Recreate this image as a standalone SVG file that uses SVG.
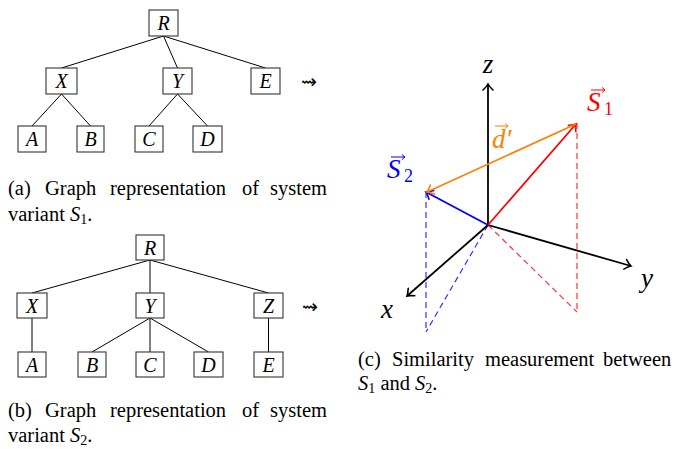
<svg xmlns="http://www.w3.org/2000/svg" width="680" height="449" viewBox="0 0 680 449">
<style>
.box{fill:#fff;stroke:#333;stroke-width:1.1}
.nl{font-style:italic;font-size:20px;text-anchor:middle;fill:#000}
.edge{stroke:#000;stroke-width:1;fill:none}
.cap{font-size:20.5px;fill:#000}
.it{font-style:italic}
.sub{font-size:14px}
.ax{stroke:#000;stroke-width:1.8;fill:none}
.m{font-style:italic;font-size:27px}
.msub{font-size:18px}
.sq{font-size:19px;fill:#000}
</style>
<defs>
<marker id="ak" viewBox="-8 -6 10 12" refX="0" refY="0" markerWidth="10" markerHeight="12" markerUnits="userSpaceOnUse" orient="auto"><path d="M-6,-5 Q-2,-1 0,0 Q-2,1 -6,5" fill="none" stroke="#000" stroke-width="1.6" stroke-linecap="round"/></marker>
<marker id="ar" viewBox="-8 -6 10 12" refX="0" refY="0" markerWidth="10" markerHeight="12" markerUnits="userSpaceOnUse" orient="auto"><path d="M-6,-5 Q-2,-1 0,0 Q-2,1 -6,5" fill="none" stroke="#f00" stroke-width="1.6" stroke-linecap="round"/></marker>
<marker id="ab" viewBox="-8 -6 10 12" refX="0" refY="0" markerWidth="10" markerHeight="12" markerUnits="userSpaceOnUse" orient="auto"><path d="M-6,-5 Q-2,-1 0,0 Q-2,1 -6,5" fill="none" stroke="#00f" stroke-width="1.6" stroke-linecap="round"/></marker>
<marker id="ao" viewBox="-8 -6 10 12" refX="0" refY="0" markerWidth="10" markerHeight="12" markerUnits="userSpaceOnUse" orient="auto"><path d="M-6,-5 Q-2,-1 0,0 Q-2,1 -6,5" fill="none" stroke="#ff8000" stroke-width="1.6" stroke-linecap="round"/></marker>
</defs>

<g font-family="Liberation Serif, DejaVu Serif, serif">
<!-- Tree (a) connectors -->
<g id="connectors-a">
<line class="edge" x1="163.5" y1="36" x2="61.5" y2="68"/>
<line class="edge" x1="163.5" y1="36" x2="177.5" y2="68"/>
<line class="edge" x1="163.5" y1="36" x2="265.5" y2="68"/>
<line class="edge" x1="61.5" y1="94" x2="32" y2="126"/>
<line class="edge" x1="61.5" y1="94" x2="90.5" y2="126"/>
<line class="edge" x1="177.5" y1="94" x2="149" y2="126"/>
<line class="edge" x1="177.5" y1="94" x2="207.5" y2="126"/>
</g>
<g id="a-R"><rect class="box" x="149" y="10" width="29" height="26"/><text class="nl" x="163.5" y="30">R</text></g>
<g id="a-X"><rect class="box" x="46" y="68" width="31" height="26"/><text class="nl" x="61.5" y="88">X</text></g>
<g id="a-Y"><rect class="box" x="163" y="68" width="29" height="26"/><text class="nl" x="177.5" y="88">Y</text></g>
<g id="a-E"><rect class="box" x="251" y="68" width="29" height="26"/><text class="nl" x="265.5" y="88">E</text></g>
<g id="a-A"><rect class="box" x="18" y="126" width="28" height="26"/><text class="nl" x="32" y="146">A</text></g>
<g id="a-B"><rect class="box" x="77" y="126" width="27" height="26"/><text class="nl" x="90.5" y="146">B</text></g>
<g id="a-C"><rect class="box" x="135" y="126" width="28" height="26"/><text class="nl" x="149" y="146">C</text></g>
<g id="a-D"><rect class="box" x="193" y="126" width="29" height="26"/><text class="nl" x="207.5" y="146">D</text></g>
<text class="sq" x="301" y="88" font-family="DejaVu Sans, sans-serif">⇝</text>

<!-- Caption (a) -->
<g id="caption-a">
<text class="cap" y="195"><tspan x="8">(a)</tspan><tspan x="45">Graph</tspan><tspan x="110">representation</tspan><tspan x="242">of</tspan><tspan x="270">system</tspan></text>
<text class="cap" x="8" y="221">variant <tspan class="it">S</tspan><tspan dy="3" class="sub">1</tspan><tspan dy="-3">.</tspan></text>
</g>

<!-- Tree (b) connectors -->
<g id="connectors-b">
<line class="edge" x1="150" y1="260" x2="32" y2="293"/>
<line class="edge" x1="150" y1="260" x2="150" y2="293"/>
<line class="edge" x1="150" y1="260" x2="268.5" y2="293"/>
<line class="edge" x1="32" y1="318" x2="32" y2="352"/>
<line class="edge" x1="150" y1="318" x2="92" y2="352"/>
<line class="edge" x1="150" y1="318" x2="150" y2="352"/>
<line class="edge" x1="150" y1="318" x2="208.5" y2="352"/>
<line class="edge" x1="268.5" y1="318" x2="268.5" y2="352"/>
</g>
<g id="b-R"><rect class="box" x="136" y="235" width="28" height="25"/><text class="nl" x="150" y="254.5">R</text></g>
<g id="b-X"><rect class="box" x="17" y="293" width="30" height="25"/><text class="nl" x="32" y="312.5">X</text></g>
<g id="b-Y"><rect class="box" x="136" y="293" width="28" height="25"/><text class="nl" x="150" y="312.5">Y</text></g>
<g id="b-Z"><rect class="box" x="254" y="293" width="29" height="25"/><text class="nl" x="268.5" y="312.5">Z</text></g>
<g id="b-A"><rect class="box" x="18" y="352" width="28" height="25"/><text class="nl" x="32" y="371.5">A</text></g>
<g id="b-B"><rect class="box" x="78" y="352" width="28" height="25"/><text class="nl" x="92" y="371.5">B</text></g>
<g id="b-C"><rect class="box" x="136" y="352" width="28" height="25"/><text class="nl" x="150" y="371.5">C</text></g>
<g id="b-D"><rect class="box" x="194" y="352" width="29" height="25"/><text class="nl" x="208.5" y="371.5">D</text></g>
<g id="b-E"><rect class="box" x="254" y="352" width="29" height="25"/><text class="nl" x="268.5" y="371.5">E</text></g>
<text class="sq" x="302" y="313" font-family="DejaVu Sans, sans-serif">⇝</text>

<!-- Caption (b) -->
<g id="caption-b">
<text class="cap" y="417"><tspan x="8">(b)</tspan><tspan x="45">Graph</tspan><tspan x="110">representation</tspan><tspan x="242">of</tspan><tspan x="270">system</tspan></text>
<text class="cap" x="8" y="442">variant <tspan class="it">S</tspan><tspan dy="3" class="sub">2</tspan><tspan dy="-3">.</tspan></text>
</g>

<!-- 3D plot (c) -->
<g id="plot-c">
<g id="dashed">
<line x1="577" y1="123" x2="577" y2="312" stroke="#f33" stroke-width="1.2" stroke-dasharray="6,4"/>
<line x1="488" y1="225" x2="577" y2="312" stroke="#f33" stroke-width="1.2" stroke-dasharray="6,4"/>
<line x1="426" y1="192" x2="426" y2="332" stroke="#33f" stroke-width="1.2" stroke-dasharray="6,4"/>
<line x1="488" y1="225" x2="426" y2="332" stroke="#33f" stroke-width="1.2" stroke-dasharray="6,4"/>
</g>
<g id="axes">
<line class="ax" x1="488" y1="225" x2="488" y2="84" marker-end="url(#ak)"/>
<line class="ax" x1="488" y1="225" x2="407" y2="296" marker-end="url(#ak)"/>
<line class="ax" x1="488" y1="225" x2="631" y2="266" marker-end="url(#ak)"/>
</g>
<g id="vectors">
<line x1="488" y1="225" x2="426" y2="192" stroke="#00f" stroke-width="1.8" marker-end="url(#ab)"/>
<line x1="488" y1="225" x2="576" y2="124" stroke="#f00" stroke-width="1.8" marker-end="url(#ar)"/>
<line x1="576" y1="124" x2="427" y2="192" stroke="#ff8000" stroke-width="1.8" marker-end="url(#ao)"/>
</g>
<g id="labels">
<text class="m" x="488" y="73" text-anchor="middle">z</text>
<text class="m" x="381" y="318">x</text>
<text class="m" x="641" y="287">y</text>
<g fill="#f00" stroke="none">
<text class="m" x="587" y="111">S</text><text class="msub" x="604" y="115">1</text>
</g>
<path d="M591,90 H605 M602,87.5 L605,90 L602,92.5" stroke="#f00" stroke-width="1" fill="none"/>
<g fill="#00f">
<text class="m" x="387" y="178">S</text><text class="msub" x="404" y="182">2</text>
</g>
<path d="M391,157 H405 M402,154.5 L405,157 L402,159.5" stroke="#00f" stroke-width="1" fill="none"/>
<text class="m" x="492" y="148" fill="#ff8000">d′</text>
<path d="M495,126 H508 M505,123.5 L508,126 L505,128.5" stroke="#ff8000" stroke-width="1" fill="none"/>
</g>
</g>

<!-- Caption (c) -->
<g id="caption-c">
<text class="cap" y="366"><tspan x="358">(c)</tspan><tspan x="392">Similarity</tspan><tspan x="485">measurement</tspan><tspan x="603">between</tspan></text>
<text class="cap" x="358" y="390"><tspan class="it">S</tspan><tspan dy="3" class="sub">1</tspan><tspan dy="-3"> and </tspan><tspan class="it">S</tspan><tspan dy="3" class="sub">2</tspan><tspan dy="-3">.</tspan></text>
</g>
</g>
</svg>
